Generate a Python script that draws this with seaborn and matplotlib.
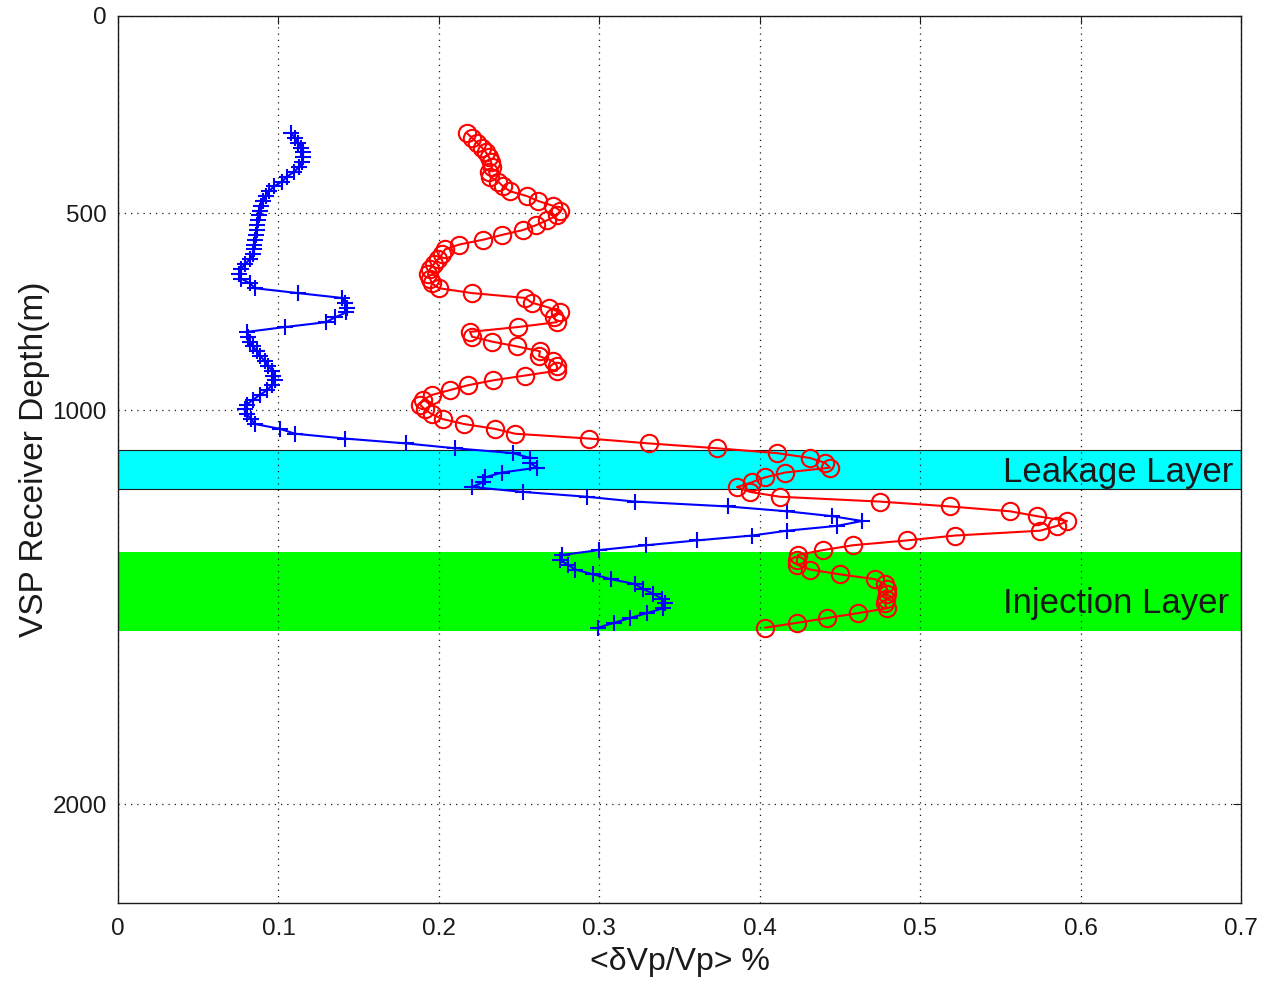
import matplotlib
matplotlib.use("Agg")
import matplotlib.pyplot as plt
import seaborn as sns

# receiver depths (m)
depth = [
    297.0, 309.3, 321.6, 333.9, 346.2, 358.5, 370.8, 383.1, 395.4, 407.7,
    420.0, 432.3, 444.6, 456.9, 469.2, 481.5, 493.8, 506.1, 518.4, 530.7,
    543.0, 555.3, 567.6, 579.9, 592.2, 604.5, 616.8, 629.1, 641.4, 653.7,
    666.0, 678.3, 690.6, 702.9, 715.2, 727.5, 739.8, 752.1, 764.4, 776.7,
    789.0, 801.3, 813.6, 825.9, 838.2, 850.5, 862.8, 875.1, 887.4, 899.7,
    912.0, 924.3, 936.6, 948.9, 961.2, 973.5, 985.8, 998.1, 1010.4, 1022.7,
    1035.0, 1047.3, 1059.6, 1071.9, 1084.2, 1096.5, 1108.8, 1121.1, 1133.4, 1145.7,
    1158.0, 1170.3, 1182.6, 1194.9, 1207.2, 1219.5, 1231.8, 1244.1, 1256.4, 1268.7,
    1281.0, 1293.3, 1305.6, 1317.9, 1330.2, 1342.5, 1354.8, 1367.1, 1379.4, 1391.7,
    1404.0, 1416.3, 1428.6, 1440.9, 1453.2, 1465.5, 1477.8, 1490.1, 1502.4, 1514.7,
    1527.0, 1539.3, 1551.6,
]

# <dVp/Vp> %, circles (red)
dv_circle = [
    0.2175, 0.2207, 0.2238, 0.2269, 0.2294, 0.2313, 0.2325, 0.2331, 0.2313, 0.2319,
    0.2369, 0.2400, 0.2443, 0.2549, 0.2618, 0.2711, 0.2755, 0.2736, 0.2674, 0.2605,
    0.2524, 0.2394, 0.2275, 0.2126, 0.2038, 0.2020, 0.1995, 0.1970, 0.1945, 0.1932,
    0.1945, 0.1957, 0.2001, 0.2207, 0.2537, 0.2581, 0.2687, 0.2755, 0.2718, 0.2736,
    0.2493, 0.2194, 0.2207, 0.2331, 0.2487, 0.2630, 0.2624, 0.2711, 0.2736, 0.2736,
    0.2537, 0.2337, 0.2182, 0.2069, 0.1957, 0.1901, 0.1882, 0.1914, 0.1957, 0.2026,
    0.2157, 0.2350, 0.2475, 0.2936, 0.3310, 0.3734, 0.4108, 0.4313, 0.4407, 0.4438,
    0.4158, 0.4033, 0.3952, 0.3858, 0.3939, 0.4126, 0.4750, 0.5186, 0.5560, 0.5728,
    0.5915, 0.5853, 0.5747, 0.5217, 0.4918, 0.4581, 0.4394, 0.4239, 0.4232, 0.4232,
    0.4313, 0.4500, 0.4719, 0.4781, 0.4793, 0.4793, 0.4787, 0.4781, 0.4793, 0.4613,
    0.4419, 0.4232, 0.4033,
]

# <dVp/Vp> %, crosses (blue)
dv_plus = [
    0.1078, 0.1103, 0.1122, 0.1141, 0.1153, 0.1153, 0.1147, 0.1128, 0.1097, 0.1053,
    0.1022, 0.0972, 0.0941, 0.0923, 0.0904, 0.0891, 0.0885, 0.0879, 0.0873, 0.0866,
    0.0866, 0.0860, 0.0854, 0.0848, 0.0848, 0.0841, 0.0823, 0.0792, 0.0767, 0.0754,
    0.0767, 0.0823, 0.0854, 0.1122, 0.1396, 0.1415, 0.1427, 0.1421, 0.1353, 0.1297,
    0.1041, 0.0804, 0.0810, 0.0823, 0.0841, 0.0866, 0.0885, 0.0916, 0.0935, 0.0960,
    0.0966, 0.0979, 0.0960, 0.0929, 0.0885, 0.0841, 0.0804, 0.0792, 0.0804, 0.0829,
    0.0854, 0.1010, 0.1103, 0.1415, 0.1795, 0.2101, 0.2462, 0.2568, 0.2568, 0.2612,
    0.2394, 0.2288, 0.2275, 0.2207, 0.2524, 0.2923, 0.3223, 0.3802, 0.4170, 0.4451,
    0.4638, 0.4482, 0.4170, 0.3952, 0.3609, 0.3291, 0.2998, 0.2768, 0.2755, 0.2805,
    0.2849, 0.2961, 0.3073, 0.3223, 0.3272, 0.3335, 0.3391, 0.3410, 0.3397, 0.3297,
    0.3191, 0.3092, 0.2992,
]

leakage_layer = (1100, 1200)
injection_layer = (1360, 1560)

xticks = [0, 0.1, 0.2, 0.3, 0.4, 0.5, 0.6, 0.7]
xtick_labels = ["0", "0.1", "0.2", "0.3", "0.4", "0.5", "0.6", "0.7"]
yticks = [0, 500, 1000, 2000]
ytick_labels = ["0", "500", "1000", "2000"]

sns.set_theme(style="white")
plt.rcParams["font.family"] = ["Liberation Sans", "DejaVu Sans"]
plt.rcParams["text.color"] = "k"

fig, ax = plt.subplots(figsize=(12.73, 9.85), dpi=100)
fig.subplots_adjust(left=0.0927, right=0.9749, top=0.9838, bottom=0.0832)

ax.axhspan(*leakage_layer, facecolor="#00ffff", edgecolor="k", lw=0.8, zorder=1)
ax.axhspan(*injection_layer, facecolor="#00ff00", edgecolor="none", zorder=1)

sns.lineplot(x=dv_plus, y=depth, sort=False, estimator=None, ax=ax,
             color="#0000ff", lw=1.5, marker="+", markersize=12,
             markeredgecolor="#0000ff", markeredgewidth=1.5, zorder=3)
sns.lineplot(x=dv_circle, y=depth, sort=False, estimator=None, ax=ax,
             color="#ff0000", lw=1.5, marker="o", markersize=12.5,
             markerfacecolor="none", markeredgecolor="#ff0000",
             markeredgewidth=1.5, zorder=3)

ax.text(0.695, 1183, "Leakage Layer", ha="right", va="baseline",
        fontsize=25, color="k", zorder=4)
ax.text(0.6925, 1515, "Injection Layer", ha="right", va="baseline",
        fontsize=25, color="k", zorder=4)

ax.set_xlim(0, 0.7)
ax.set_ylim(2250, 0)
ax.set_xticks(xticks)
ax.set_xticklabels(xtick_labels)
ax.set_yticks(yticks)
ax.set_yticklabels(ytick_labels)
ax.set_axisbelow(False)
ax.grid(True, linestyle=(0, (1, 4)), color="k", lw=0.9)
ax.tick_params(direction="in", top=True, right=True, length=6, width=0.8,
               labelsize=17.5, colors="k")
ax.tick_params(axis="x", pad=11)
ax.tick_params(axis="y", pad=8)
for s in ax.spines.values():
    s.set_color("k")
    s.set_linewidth(1.0)

ax.set_xlabel("<δVp/Vp> %", fontsize=23, color="k", labelpad=5)
ax.set_ylabel("VSP Receiver Depth(m)", fontsize=24, color="k", labelpad=2)

fig.savefig("out.png", dpi=100)
